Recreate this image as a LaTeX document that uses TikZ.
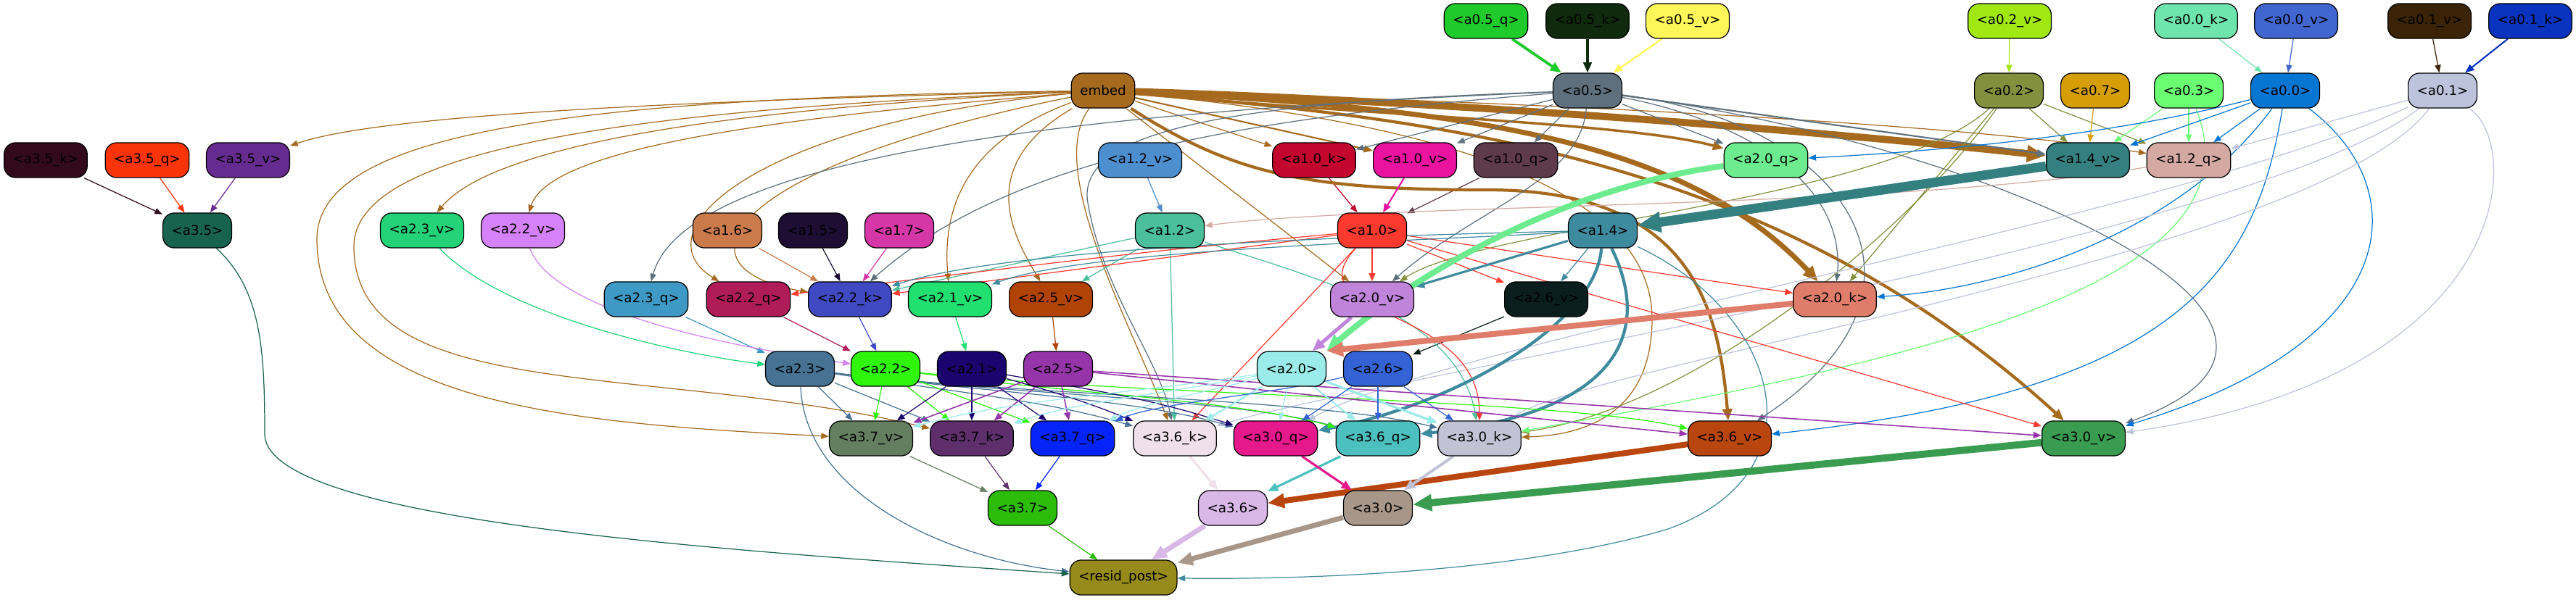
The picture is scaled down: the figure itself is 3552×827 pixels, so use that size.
\documentclass[tikz,border=0pt]{standalone}
\usepackage{fontspec}
\setmainfont{DejaVu Sans}
\usetikzlibrary{arrows.meta}
\pgfdeclarelayer{bg}
\pgfsetlayers{bg,main}

\definecolor{embed}{HTML}{A66A1E}
\definecolor{a05q}{HTML}{1ECB2A}\definecolor{a05k}{HTML}{0F2A0C}\definecolor{a05v}{HTML}{FFF65A}
\definecolor{a05}{HTML}{5E707D}\definecolor{a02v}{HTML}{A1E812}\definecolor{a02}{HTML}{83913E}
\definecolor{a07}{HTML}{D59D06}\definecolor{a03}{HTML}{6BFE72}\definecolor{a00k}{HTML}{6EE5AC}
\definecolor{a00v}{HTML}{4266CF}\definecolor{a00}{HTML}{0776D3}\definecolor{a01v}{HTML}{3A2306}
\definecolor{a01k}{HTML}{0A33BF}\definecolor{a01}{HTML}{BEC3DC}
\definecolor{a35k}{HTML}{330A1C}\definecolor{a35q}{HTML}{FA3409}\definecolor{a35v}{HTML}{652B8F}
\definecolor{a35}{HTML}{17634E}\definecolor{a23v}{HTML}{24D377}\definecolor{a22v}{HTML}{D581F7}
\definecolor{a16}{HTML}{CB7B4B}\definecolor{a15}{HTML}{1E0E33}\definecolor{a17}{HTML}{D537A6}
\definecolor{a12v}{HTML}{4D8ECF}\definecolor{a12}{HTML}{4BBF9A}\definecolor{a10k}{HTML}{C3062D}
\definecolor{a10v}{HTML}{E913A0}\definecolor{a10q}{HTML}{5E3A4B}\definecolor{a10}{HTML}{FB3A2F}
\definecolor{a14}{HTML}{3E8A9E}\definecolor{a20q}{HTML}{6CEC8E}\definecolor{a14v}{HTML}{347F80}
\definecolor{a12q}{HTML}{D3A9A1}\definecolor{a23q}{HTML}{3E9AC5}\definecolor{a22q}{HTML}{B01C58}
\definecolor{a22k}{HTML}{4149C2}\definecolor{a21v}{HTML}{21E070}\definecolor{a25v}{HTML}{B24307}
\definecolor{a20v}{HTML}{C084DA}\definecolor{a26v}{HTML}{0A1F1D}\definecolor{a20k}{HTML}{E07D6A}
\definecolor{a23}{HTML}{467394}\definecolor{a22}{HTML}{2EF50B}\definecolor{a21}{HTML}{1C046F}
\definecolor{a25}{HTML}{9634AA}\definecolor{a20}{HTML}{9AEBEA}\definecolor{a26}{HTML}{3363D5}
\definecolor{a37v}{HTML}{647F60}\definecolor{a37k}{HTML}{5E2F6C}\definecolor{a37q}{HTML}{0524FA}
\definecolor{a36k}{HTML}{EFE0EC}\definecolor{a30q}{HTML}{E5198C}\definecolor{a36q}{HTML}{4CC0BE}
\definecolor{a30k}{HTML}{C1C3D4}\definecolor{a36v}{HTML}{B9460F}\definecolor{a30v}{HTML}{399C50}
\definecolor{a37}{HTML}{2CBD0B}\definecolor{a36}{HTML}{D9B8E8}\definecolor{a30}{HTML}{A89688}
\definecolor{resid}{HTML}{958A1A}

\tikzset{
  box/.style={draw, line width=0.35pt, rounded corners=4.5pt, minimum height=13.7pt,
    inner xsep=3.4pt, inner ysep=0pt, font=\fontsize{5.2}{6}\selectfont},
  ed/.style 2 args={draw=#1, line width=#2pt, -{Triangle[length=2.4pt 1.8, width=1.8pt 1.6]}},
}

\begin{document}
\begin{tikzpicture}[x=0.01cm, y=-0.01cm]
\useasboundingbox (0,0) rectangle (3552,827);

\node[box, fill=a05q] (a05q) at (2049,29) {<a0.5\_q>};
\node[box, fill=a05k] (a05k) at (2189,29) {<a0.5\_k>};
\node[box, fill=a05v] (a05v) at (2327,29) {<a0.5\_v>};
\node[box, fill=a02v] (a02v) at (2771,29) {<a0.2\_v>};
\node[box, fill=a00k] (a00k) at (3028,29) {<a0.0\_k>};
\node[box, fill=a00v] (a00v) at (3166,29) {<a0.0\_v>};
\node[box, fill=a01v] (a01v) at (3350,29) {<a0.1\_v>};
\node[box, fill=a01k] (a01k) at (3489,29) {<a0.1\_k>};

\node[box, fill=embed] (embed) at (1521,125) {embed};
\node[box, fill=a05] (a05) at (2189,125) {<a0.5>};
\node[box, fill=a02] (a02) at (2770,125) {<a0.2>};
\node[box, fill=a07] (a07) at (2889,125) {<a0.7>};
\node[box, fill=a03] (a03) at (3018,125) {<a0.3>};
\node[box, fill=a00] (a00) at (3151,125) {<a0.0>};
\node[box, fill=a01] (a01) at (3368,125) {<a0.1>};

\node[box, fill=a35k] (a35k) at (63,221) {<a3.5\_k>};
\node[box, fill=a35q] (a35q) at (203,221) {<a3.5\_q>};
\node[box, fill=a35v] (a35v) at (342,221) {<a3.5\_v>};
\node[box, fill=a12v] (a12v) at (1572,221) {<a1.2\_v>};
\node[box, fill=a10k] (a10k) at (1812,221) {<a1.0\_k>};
\node[box, fill=a10v] (a10v) at (1951,221) {<a1.0\_v>};
\node[box, fill=a10q] (a10q) at (2090,221) {<a1.0\_q>};
\node[box, fill=a20q] (a20q) at (2435,221) {<a2.0\_q>};
\node[box, fill=a14v] (a14v) at (2879,221) {<a1.4\_v>};
\node[box, fill=a12q] (a12q) at (3018,221) {<a1.2\_q>};

\node[box, fill=a35] (a35) at (272,318) {<a3.5>};
\node[box, fill=a23v] (a23v) at (582,318) {<a2.3\_v>};
\node[box, fill=a22v] (a22v) at (721,318) {<a2.2\_v>};
\node[box, fill=a16] (a16) at (1003,318) {<a1.6>};
\node[box, fill=a15] (a15) at (1121,318) {<a1.5>};
\node[box, fill=a17] (a17) at (1240,318) {<a1.7>};
\node[box, fill=a12] (a12) at (1613,318) {<a1.2>};
\node[box, fill=a10] (a10) at (1892,318) {<a1.0>};
\node[box, fill=a14] (a14) at (2210,318) {<a1.4>};

\node[box, fill=a23q] (a23q) at (891,413) {<a2.3\_q>};
\node[box, fill=a22q] (a22q) at (1032,413) {<a2.2\_q>};
\node[box, fill=a22k] (a22k) at (1172,413) {<a2.2\_k>};
\node[box, fill=a21v] (a21v) at (1310,413) {<a2.1\_v>};
\node[box, fill=a25v] (a25v) at (1449,413) {<a2.5\_v>};
\node[box, fill=a20v] (a20v) at (1892,413) {<a2.0\_v>};
\node[box, fill=a26v] (a26v) at (2132,413) {<a2.6\_v>};
\node[box, fill=a20k] (a20k) at (2530,413) {<a2.0\_k>};

\node[box, fill=a23] (a23) at (1103,509) {<a2.3>};
\node[box, fill=a22] (a22) at (1221,509) {<a2.2>};
\node[box, fill=a21] (a21) at (1340,509) {<a2.1>};
\node[box, fill=a25] (a25) at (1459,509) {<a2.5>};
\node[box, fill=a20] (a20) at (1781,509) {<a2.0>};
\node[box, fill=a26] (a26) at (1900,509) {<a2.6>};

\node[box, fill=a37v] (a37v) at (1201,605) {<a3.7\_v>};
\node[box, fill=a37k] (a37k) at (1340,605) {<a3.7\_k>};
\node[box, fill=a37q] (a37q) at (1479,605) {<a3.7\_q>};
\node[box, fill=a36k] (a36k) at (1620,605) {<a3.6\_k>};
\node[box, fill=a30q] (a30q) at (1759,605) {<a3.0\_q>};
\node[box, fill=a36q] (a36q) at (1900,605) {<a3.6\_q>};
\node[box, fill=a30k] (a30k) at (2040,605) {<a3.0\_k>};
\node[box, fill=a36v] (a36v) at (2385,605) {<a3.6\_v>};
\node[box, fill=a30v] (a30v) at (2873,605) {<a3.0\_v>};

\node[box, fill=a37] (a37) at (1410,701) {<a3.7>};
\node[box, fill=a36] (a36) at (1700,701) {<a3.6>};
\node[box, fill=a30] (a30) at (1900,701) {<a3.0>};
\node[box, fill=resid] (resid) at (1549,797) {<resid\_post>};

\begin{pgfonlayer}{bg}
\draw[ed={a05q}{1.1}] (a05q) -- (a05);
\draw[ed={a05k}{0.9}] (a05k) -- (a05);
\draw[ed={a05v}{0.7}] (a05v) -- (a05);
\draw[ed={a01k}{0.6}] (a01k) -- (a01);
\foreach \s/\t in {a02v/a02,a00k/a00,a00v/a00,a01v/a01,a35k/a35,a35q/a35,a35v/a35,a12v/a12,
    a16/a22k,a15/a22k,a17/a22k,a10k/a10,a10q/a10,a26v/a26,a23q/a23,a22q/a22,a22k/a22,
    a21v/a21,a25v/a25,a37v/a37,a37k/a37,a37q/a37,a37/resid}
  \draw[ed={\s}{.35}] (\s) -- (\t);

\draw[ed={embed}{.35}] (embed) .. controls (900,140) and (520,160) .. (a35v);
\draw[ed={embed}{.35}] (embed) .. controls (800,135) and (437,180) .. (437,330) .. controls (437,560) and (800,585) .. (a37v);
\draw[ed={embed}{.35}] (embed) .. controls (900,150) and (488,200) .. (488,340) .. controls (488,560) and (900,500) .. (a37k);
\draw[ed={embed}{.35}] (embed) .. controls (1000,150) and (680,200) .. (a23v);
\draw[ed={embed}{.35}] (embed) .. controls (1100,160) and (760,200) .. (a22v);
\draw[ed={embed}{.35}] (embed) .. controls (1040,170) and (880,320) .. (a22q);
\draw[ed={embed}{.35}] (embed) .. controls (1000,230) and (920,370) .. (a22k);
\draw[ed={embed}{.35}] (embed) .. controls (1320,200) and (1300,300) .. (a21v);
\draw[ed={embed}{.35}] (embed) .. controls (1340,230) and (1400,330) .. (a25v);
\draw[ed={embed}{.35}] (embed) .. controls (1440,230) and (1560,450) .. (a36k);
\draw[ed={embed}{.35}] (embed) -- (a10k);
\draw[ed={embed}{.6}] (embed) -- (a10v);
\draw[ed={embed}{.35}] (embed) -- (a20v);
\draw[ed={embed}{1}] (embed) .. controls (1900,160) and (2250,170) .. (a20q);
\draw[ed={embed}{2.8}] (embed) .. controls (2000,140) and (2500,180) .. (a14v);
\draw[ed={embed}{.35}] (embed) .. controls (2100,140) and (2700,170) .. (a12q);
\draw[ed={embed}{2}] (embed) .. controls (2050,150) and (2330,200) .. (a20k);
\draw[ed={embed}{1.2}] (embed) .. controls (1700,240) and (1800,262) .. (2050,262) .. controls (2330,262) and (2370,420) .. (a36v);
\draw[ed={embed}{1.2}] (embed) .. controls (2000,165) and (2450,220) .. (a30v);
\draw[ed={embed}{.35}] (embed) .. controls (2100,180) and (2278,300) .. (2278,440) .. controls (2278,560) and (2200,600) .. (a30k);

\foreach \t in {a10k,a10v,a10q,a20q} \draw[ed={a05}{.35}] (a05) -- (\t);
\draw[ed={a05}{.6}] (a05) -- (a14v);
\draw[ed={a05}{.35}] (a05) .. controls (2180,250) and (2030,290) .. (a20v);
\draw[ed={a05}{.35}] (a05) .. controls (2420,170) and (2545,260) .. (a20k);
\draw[ed={a05}{.35}] (a05) .. controls (1750,160) and (1400,210) .. (a22k);
\draw[ed={a05}{.35}] (a05) .. controls (1600,150) and (950,200) .. (a23q);
\draw[ed={a05}{.35}] (a05) .. controls (1750,140) and (1480,170) .. (1500,280) .. controls (1520,400) and (1600,500) .. (a36k);
\draw[ed={a05}{.35}] (a05) .. controls (2550,170) and (2700,400) .. (a36v);
\draw[ed={a05}{.35}] (a05) .. controls (2750,200) and (3300,450) .. (a30v);

\foreach \t in {a14v,a12q,a20k} \draw[ed={a02}{.35}] (a02) -- (\t);
\draw[ed={a02}{.35}] (a02) .. controls (2600,280) and (2050,310) .. (a20v);
\draw[ed={a02}{.35}] (a02) .. controls (2650,300) and (2350,560) .. (a30k);
\draw[ed={a07}{.35}] (a07) -- (a14v);
\foreach \t in {a14v,a12q} \draw[ed={a03}{.35}] (a03) -- (\t);
\draw[ed={a03}{.35}] (a03) .. controls (3120,380) and (2700,490) .. (a30k);

\foreach \t in {a14v,a12q} \draw[ed={a00}{.35}] (a00) -- (\t);
\draw[ed={a00}{.35}] (a00) .. controls (2900,190) and (2650,210) .. (a20q);
\draw[ed={a00}{.35}] (a00) .. controls (3000,330) and (2750,400) .. (a20k);
\draw[ed={a00}{.35}] (a00) .. controls (3110,380) and (3000,540) .. (a36v);
\draw[ed={a00}{.35}] (a00) .. controls (3330,260) and (3320,470) .. (a30v);

\draw[ed={a01}{.35}] (a01) -- (a12q);
\draw[ed={a01}{.35}] (a01) .. controls (3000,300) and (2000,470) .. (a30q);
\draw[ed={a01}{.35}] (a01) .. controls (3100,330) and (1900,520) .. (a36k);
\draw[ed={a01}{.35}] (a01) .. controls (3200,350) and (2200,500) .. (a30k);
\draw[ed={a01}{.35}] (a01) .. controls (3480,200) and (3470,520) .. (a30v);

\draw[ed={a12q}{.35}] (a12q) .. controls (2600,290) and (1900,280) .. (a12);
\foreach \t in {a22k,a25v,a36k} \draw[ed={a12}{.35}] (a12) -- (\t);
\draw[ed={a12}{.35}] (a12) .. controls (1800,380) and (2010,430) .. (a30k);

\draw[ed={a10v}{.6}] (a10v) -- (a10);
\draw[ed={a10}{.45}] (a10) -- (a20v);
\foreach \t in {a22k,a26v,a20k,a36k,a30v} \draw[ed={a10}{.35}] (a10) -- (\t);
\draw[ed={a10}{.35}] (a10) .. controls (1600,345) .. (a22q);
\draw[ed={a10}{.35}] (a10) .. controls (1780,440) and (2040,420) .. (a30k);

\draw[ed={a14v}{3.7}] (a14v) -- (a14);
\draw[ed={a14}{.9}] (a14) -- (a20v);
\draw[ed={a14}{.35}] (a14) -- (a26v);
\draw[ed={a14}{.35}] (a14) .. controls (1900,335) and (1500,345) .. (a21v);
\draw[ed={a14}{.35}] (a14) .. controls (1900,325) and (1400,340) .. (a22k);
\draw[ed={a14}{1.2}] (a14) .. controls (2200,450) and (2000,560) .. (a30q);
\draw[ed={a14}{1.2}] (a14) .. controls (2280,460) and (2230,570) .. (a36q);
\draw[ed={a14}{.35}] (a14) .. controls (2450,430) and (2520,650) .. (2300,730) .. controls (2100,790) and (1800,800) .. (resid);

\draw[ed={a20q}{2.3}] (a20q) .. controls (2150,260) and (1950,380) .. (a20.north east);
\draw[ed={a20k}{2.3}] (a20k) -- (a20.north east);
\draw[ed={a20v}{1.4}] (a20v) -- (a20);
\draw[ed={a23v}{.35}] (a23v) .. controls (700,440) and (950,490) .. (a23);
\draw[ed={a22v}{.35}] (a22v) .. controls (760,420) and (950,470) .. (a22);

\foreach \t in {a37v,a37k} \draw[ed={a23}{.35}] (a23) -- (\t);
\draw[ed={a23}{.35}] (a23) .. controls (1350,545) and (1450,555) .. (a36k);
\draw[ed={a23}{.35}] (a23) .. controls (1400,545) and (1560,550) .. (a30q);
\draw[ed={a23}{.35}] (a23) .. controls (1400,545) and (1700,550) .. (a36q);
\draw[ed={a23}{.35}] (a23) .. controls (1400,545) and (1820,550) .. (a30k);
\draw[ed={a23}{.35}] (a23) .. controls (1110,680) and (1300,770) .. (resid);
\foreach \t in {a37v,a37k,a37q} \draw[ed={a22}{.35}] (a22) -- (\t);
\draw[ed={a22}{.35}] (a22) .. controls (1500,545) and (1700,552) .. (a36q);
\draw[ed={a22}{.35}] (a22) .. controls (1550,545) and (2150,550) .. (a36v);
\foreach \t in {a37v,a37k,a37q} \draw[ed={a21}{.35}] (a21) -- (\t);
\draw[ed={a21}{.35}] (a21) .. controls (1450,540) and (1500,555) .. (a36k);
\draw[ed={a21}{.35}] (a21) .. controls (1550,545) and (1600,555) .. (a30q);
\foreach \t in {a37v,a37k,a37q,a36v,a30v} \draw[ed={a25}{.45}] (a25) -- (\t);
\draw[ed={a20}{.35}] (a20) .. controls (1550,545) and (1400,550) .. (a37v);
\draw[ed={a20}{.35}] (a20) .. controls (1600,545) and (1480,555) .. (a37k);
\draw[ed={a20}{.35}] (a20) .. controls (1650,545) and (1580,555) .. (a37q);
\draw[ed={a20}{.6}] (a20) -- (a36k);
\draw[ed={a20}{.35}] (a20) -- (a30q);
\draw[ed={a20}{.6}] (a20) -- (a36q);
\draw[ed={a20}{.9}] (a20) -- (a30k);
\draw[ed={a26}{.35}] (a26) .. controls (1750,545) and (1600,555) .. (a37q);
\foreach \t in {a30q,a36q,a30k} \draw[ed={a26}{.35}] (a26) -- (\t);

\draw[ed={a36k}{.9}] (a36k) -- (a36);
\draw[ed={a36q}{.9}] (a36q) -- (a36);
\draw[ed={a36v}{2.3}] (a36v) -- (a36);
\draw[ed={a30q}{.9}] (a30q) -- (a30);
\draw[ed={a30k}{1.1}] (a30k) -- (a30);
\draw[ed={a30v}{2.8}] (a30v) -- (a30);
\draw[ed={a36}{2}] (a36) -- (resid);
\draw[ed={a30}{2}] (a30) -- (resid);
\draw[ed={a35}{.35}] (a35) .. controls (360,400) and (365,480) .. (365,600) .. controls (370,720) and (1000,760) .. (resid);
\end{pgfonlayer}
\end{tikzpicture}
\end{document}
